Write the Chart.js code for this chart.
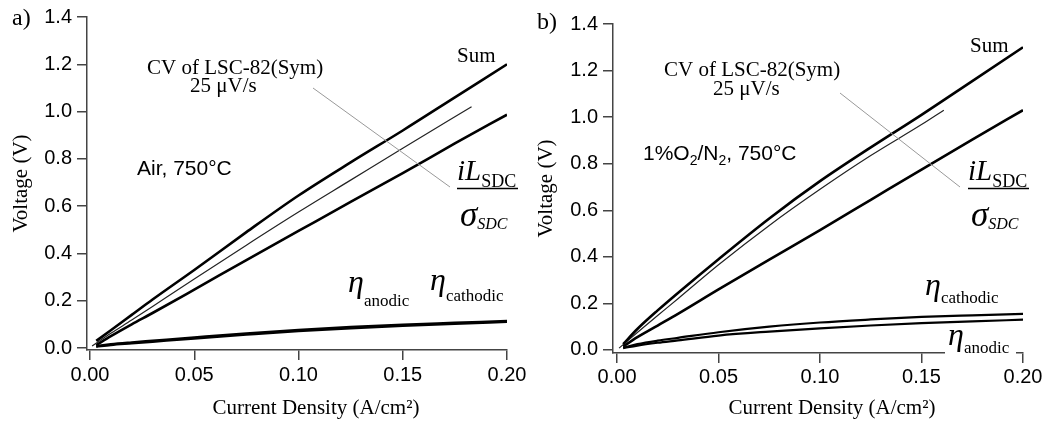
<!DOCTYPE html>
<html>
<head>
<meta charset="utf-8">
<script src="https://cdn.jsdelivr.net/npm/chart.js@4/dist/chart.umd.min.js"></script>
<style>
  html, body { margin: 0; padding: 0; background: #fff; }
  #wrap { position: relative; width: 1045px; height: 423px; overflow: hidden; }
  canvas { position: absolute; top: 0; }
  #graphA { left: 0; }
  #graphB { left: 522px; }
</style>
</head>
<body>
<div id="wrap">
  <canvas id="graphA" width="545" height="423"></canvas>
  <canvas id="graphB" width="523" height="423"></canvas>
</div>
<script>
// DATA (current density in A/cm2, voltage in V)
const xTicks = [0, 0.05, 0.10, 0.15, 0.20]
const yTicks = [0, 0.2, 0.4, 0.6, 0.8, 1.0, 1.2, 1.4]

// panel a) air
const currentA = [0.003, 0.01, 0.02, 0.03, 0.05, 0.075, 0.10, 0.125, 0.15, 0.175, 0.20]
const sumA = [0.03, 0.075, 0.14, 0.205, 0.33, 0.49, 0.645, 0.785, 0.92, 1.06, 1.20]
const ohmicA = [0.012, 0.05, 0.10, 0.148, 0.247, 0.372, 0.495, 0.618, 0.74, 0.865, 0.987]
const cathodicA = [0.008, 0.016, 0.024, 0.031, 0.045, 0.062, 0.077, 0.089, 0.099, 0.107, 0.115]
const anodicA = [0.005, 0.012, 0.019, 0.026, 0.040, 0.056, 0.071, 0.083, 0.093, 0.102, 0.110]
const cvCurrentA = [0.001, 0.01, 0.02, 0.03, 0.05, 0.075, 0.10, 0.125, 0.15, 0.183]
const cvA = [0.008, 0.062, 0.118, 0.176, 0.292, 0.435, 0.575, 0.71, 0.845, 1.02]

// panel b) 1% O2 / N2
const currentB = [0.003, 0.01, 0.02, 0.03, 0.05, 0.075, 0.10, 0.125, 0.15, 0.175, 0.20]
const sumB = [0.025, 0.09, 0.17, 0.245, 0.39, 0.565, 0.725, 0.87, 1.01, 1.155, 1.30]
const ohmicB = [0.015, 0.055, 0.105, 0.155, 0.26, 0.388, 0.515, 0.645, 0.775, 0.903, 1.03]
const cathodicB = [0.010, 0.025, 0.040, 0.052, 0.076, 0.100, 0.118, 0.131, 0.142, 0.149, 0.155]
const anodicB = [0.008, 0.019, 0.031, 0.041, 0.062, 0.079, 0.093, 0.105, 0.115, 0.123, 0.130]
const cvCurrentB = [0.001, 0.01, 0.02, 0.03, 0.05, 0.075, 0.10, 0.125, 0.15, 0.161]
const cvB = [0.008, 0.075, 0.148, 0.22, 0.366, 0.535, 0.69, 0.835, 0.968, 1.03]

const SERIF = '"Liberation Serif", "Times New Roman", serif'
const SANS = '"Liberation Sans", Arial, sans-serif'
const AXIS = '#444'

function pts(xs, ys) {
    return xs.map((x, i) => ({ x: x, y: ys[i] }))
}

function line(data, width, color) {
    return {
        data: data, borderColor: color || '#000', borderWidth: width,
        pointRadius: 0, fill: false, cubicInterpolationMode: 'monotone'
    }
}

// TEXT HELPERS
function runs(ctx, x, y, parts) {
    for (const [s, font, dy] of parts) {
        ctx.font = font
        ctx.fillText(s, x, y + (dy || 0))
        x += ctx.measureText(s).width
    }
    return x
}

function fraction(ctx, x, y) {
    runs(ctx, x, y, [['i', 'italic 29px ' + SERIF], ['L', 'italic 29px ' + SERIF], ['SDC', '18px ' + SERIF, 7]])
    ctx.strokeStyle = '#000'
    ctx.lineWidth = 1.5
    ctx.beginPath()
    ctx.moveTo(x, y + 8.5)
    ctx.lineTo(x + 61, y + 8.5)
    ctx.stroke()
    runs(ctx, x + 3, y + 46, [['σ', 'italic 35px ' + SERIF], ['SDC', 'italic 16px ' + SERIF, 3]])
}

function eta(ctx, x, y, sub, dy) {
    runs(ctx, x, y, [['η', 'italic 32px ' + SERIF], [sub, '17px ' + SERIF, dy]])
}

function leader(ctx, x1, y1, x2, y2) {
    ctx.strokeStyle = '#999'
    ctx.lineWidth = 1
    ctx.beginPath()
    ctx.moveTo(x1, y1)
    ctx.lineTo(x2, y2)
    ctx.stroke()
}

function axisTitles(ctx, area, xc, yc) {
    ctx.font = '21px ' + SERIF
    ctx.textAlign = 'center'
    ctx.textBaseline = 'middle'
    ctx.fillText('Current Density (A/cm²)', xc, 408)
    ctx.save()
    ctx.translate(yc, (area.top + area.bottom) / 2)
    ctx.rotate(-Math.PI / 2)
    ctx.fillText('Voltage (V)', 0, 0)
    ctx.restore()
    ctx.textAlign = 'left'
    ctx.textBaseline = 'alphabetic'
}

function notesA(ctx, area) {
    axisTitles(ctx, area, 316, 21)
    leader(ctx, 313, 88, 450, 187)
    runs(ctx, 12, 25, [['a)', '24px ' + SERIF]])
    runs(ctx, 147, 74, [['CV of LSC-82(Sym)', '21px ' + SERIF]])
    runs(ctx, 190, 92, [['25 μV/s', '21px ' + SERIF]])
    runs(ctx, 457, 62, [['Sum', '21px ' + SERIF]])
    runs(ctx, 137, 175, [['Air, 750°C', '21px ' + SANS]])
    fraction(ctx, 457, 180)
    eta(ctx, 348, 292, 'anodic', 14)
    eta(ctx, 430, 290, 'cathodic', 11)
}

function notesB(ctx, area) {
    axisTitles(ctx, area, 310, 24)
    leader(ctx, 318, 93, 438, 187)
    runs(ctx, 15, 29, [['b)', '24px ' + SERIF]])
    runs(ctx, 142, 76, [['CV of LSC-82(Sym)', '21px ' + SERIF]])
    runs(ctx, 191, 95, [['25 μV/s', '21px ' + SERIF]])
    runs(ctx, 448, 52, [['Sum', '21px ' + SERIF]])
    runs(ctx, 121, 160, [['1%O', '21px ' + SANS], ['2', '14px ' + SANS, 5], ['/N', '21px ' + SANS],
        ['2', '14px ' + SANS, 5], [', 750°C', '21px ' + SANS]])
    fraction(ctx, 446, 180)
    eta(ctx, 403, 295, 'cathodic', 8)
    ctx.fillStyle = '#fff'
    ctx.fillRect(423, 328, 71, 33)
    ctx.fillStyle = '#000'
    eta(ctx, 426, 345, 'anodic', 8)
}

const notesById = { graphA: notesA, graphB: notesB }

const notesPlugin = {
    id: 'notes',
    afterDraw(chart) {
        const ctx = chart.ctx
        ctx.save()
        ctx.fillStyle = '#000'
        ctx.textBaseline = 'alphabetic'
        notesById[chart.canvas.id](ctx, chart.chartArea)
        ctx.restore()
    }
}

// GRAPH
function drawPanel(id, p) {
    const ctx = document.getElementById(id).getContext('2d')
    return new Chart(ctx, {
        type: 'line',
        data: {
            datasets: [
                line(pts(p.x, p.sum), 2.6),
                line(pts(p.cvx, p.cv), 1.2, '#222'),
                line(pts(p.x, p.ohmic), 2.6),
                line(pts(p.x, p.cathodic), 2.2),
                line(pts(p.x, p.anodic), 2.2)
            ]
        },
        plugins: [notesPlugin],
        options: {
            responsive: false,
            animation: false,
            events: [],
            layout: { padding: { top: p.top, right: p.right, left: 0, bottom: 0 } },
            plugins: {
                legend: { display: false },
                tooltip: { enabled: false }
            },
            scales: {
                x: {
                    type: 'linear',
                    min: p.xmin,
                    max: 0.2,
                    afterBuildTicks: s => { s.ticks = xTicks.map(v => ({ value: v })) },
                    afterFit: s => { s.height = p.xh; s.paddingLeft = 0; s.paddingRight = 0 },
                    ticks: {
                        callback: v => v.toFixed(2),
                        color: '#000',
                        font: { family: SANS, size: 20 },
                        padding: p.xpad,
                        maxRotation: 0,
                        autoSkip: false
                    },
                    grid: { drawOnChartArea: false, tickLength: 10, color: AXIS, lineWidth: 1.5 },
                    border: { color: AXIS, width: 1.5 }
                },
                y: {
                    type: 'linear',
                    min: p.ymin,
                    max: 1.4,
                    afterBuildTicks: s => { s.ticks = yTicks.map(v => ({ value: v })) },
                    afterFit: s => { s.width = p.yw; s.paddingTop = 0; s.paddingBottom = 0 },
                    ticks: {
                        callback: v => v.toFixed(1),
                        color: '#000',
                        font: { family: SANS, size: 20 },
                        padding: 5,
                        autoSkip: false
                    },
                    grid: { drawOnChartArea: false, tickLength: 10, color: AXIS, lineWidth: 1.5 },
                    border: { color: AXIS, width: 1.5 }
                }
            }
        }
    })
}

drawPanel('graphA', {
    x: currentA, sum: sumA, ohmic: ohmicA, cathodic: cathodicA, anodic: anodicA,
    cvx: cvCurrentA, cv: cvA,
    top: 17, right: 38, yw: 87, xh: 73, xpad: 3,
    xmin: -0.00144, ymin: -0.0085
})

drawPanel('graphB', {
    x: currentB, sum: sumB, ohmic: ohmicB, cathodic: cathodicB, anodic: anodicB,
    cvx: cvCurrentB, cv: cvB,
    top: 24, right: 22, yw: 91, xh: 70, xpad: 2,
    xmin: -0.002, ymin: -0.013
})
</script>
</body>
</html>
